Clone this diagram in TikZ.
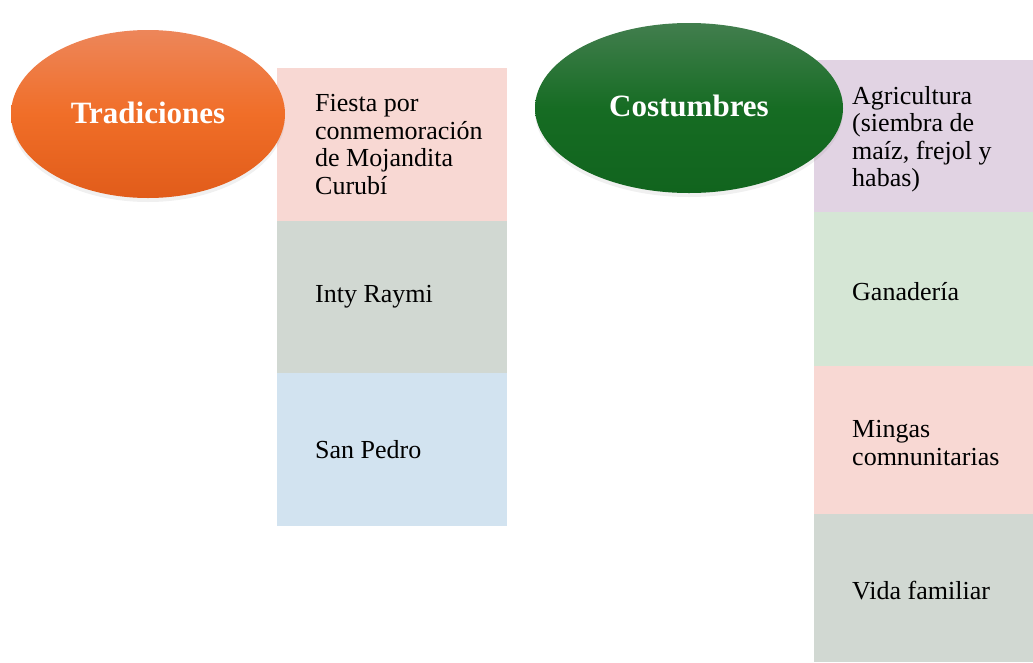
\documentclass[tikz,border=0pt]{standalone}
\usepackage{fontspec}
\setmainfont{Liberation Serif}
\usetikzlibrary{positioning, chains, shapes.geometric, shadows}

\definecolor{rosa}{RGB}{248,216,211}
\definecolor{gris}{RGB}{209,216,210}
\definecolor{celeste}{RGB}{210,227,240}
\definecolor{lila}{RGB}{225,211,227}
\definecolor{verdeclaro}{RGB}{213,230,213}
\definecolor{naranja1}{RGB}{237,134,90}
\definecolor{naranja2}{RGB}{240,110,40}
\definecolor{naranja3}{RGB}{225,92,26}
\definecolor{verde1}{RGB}{66,126,78}
\definecolor{verde2}{RGB}{22,108,35}
\definecolor{verde3}{RGB}{17,100,30}

\begin{document}
\begin{tikzpicture}[
    x = 1pt, y = -1pt,
    node distance = 0mm,
    box/.style = {fill=#1, inner sep=0pt, outer sep=0pt, on chain},
    item/.style = {anchor=west, align=left, inner sep=0pt,
        font=\fontsize{26}{27.5}\selectfont, text=black},
    tema/.style = {ellipse, inner sep=0pt, text=white,
        font=\fontsize{31}{36}\selectfont\bfseries,
        drop shadow={opacity=0.12, shadow xshift=0pt, shadow yshift=-4pt}}
  ]
  \useasboundingbox (0,0) rectangle (1033,662);

  % columna de tradiciones
  \begin{scope}[start chain = going below,
      box/.append style = {minimum width=230pt, minimum height=152.7pt}]
    \coordinate[on chain] (tradtop) at (392,68);
    \foreach \txt/\col [count=\k] in {{Fiesta por\\conmemoración\\de Mojandita\\Curubí}/rosa,
        {Inty Raymi}/gris, {San Pedro}/celeste}
    {
      \node[box=\col] (trad\k) {};
      \node[item] (tradtxt\k) at ([xshift=38pt]trad\k.west) {\txt};
    }
  \end{scope}

  % columna de costumbres
  \begin{scope}[start chain = going below,
      box/.append style = {minimum width=219pt}]
    \coordinate[on chain] (costtop) at (923.5,60);
    \foreach \txt/\col/\alto [count=\k] in {{Agricultura\\(siembra de\\maíz, frejol y\\habas)}/lila/152,
        {Ganadería}/verdeclaro/154, {Mingas\\comnunitarias}/rosa/148, {Vida familiar}/gris/148}
    {
      \node[box=\col, minimum height=\alto pt] (cost\k) {};
      \node[item, yshift=-3pt] (costtxt\k) at ([xshift=38pt]cost\k.west) {\txt};
    }
  \end{scope}

  \node[tema, minimum width=274pt, minimum height=168pt,
    top color=naranja1, bottom color=naranja3, middle color=naranja2]
    (trad) at (148,114) {\raisebox{3pt}{Tradiciones}};
  \node[tema, minimum width=308pt, minimum height=170pt,
    top color=verde1, bottom color=verde3, middle color=verde2]
    (cost) at (689,108) {\raisebox{5pt}{Costumbres}};
\end{tikzpicture}
\end{document}
